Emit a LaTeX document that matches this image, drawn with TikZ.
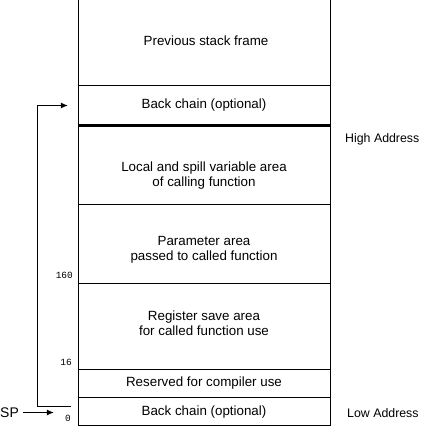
\documentclass[tikz,border=0pt]{standalone}
\usepackage{fontspec}
\setmainfont{Liberation Sans}
\newfontfamily\monof{Liberation Mono}
\usetikzlibrary{arrows.meta}
\begin{document}
\begin{tikzpicture}[x=1bp,y=-1bp,
  lbl/.style={font=\fontsize{13.4}{15}\selectfont, align=center, inner sep=0pt},
  side/.style={font=\fontsize{12.4}{14}\selectfont, anchor=west, inner sep=0pt},
  num/.style={font=\monof\fontsize{9.5}{11}\selectfont, anchor=east, inner sep=0pt},
  boxline/.style={line width=1.5bp, draw=black},
  sepline/.style={line width=3.5bp, draw=black},
  ptr/.style={line width=1.5bp, draw=black, -{Latex[length=7bp,width=6bp]}}]
\useasboundingbox (0,0) rectangle (428,427);
% outer frame (open top)
\draw[boxline] (78.5,0) -- (78.5,425.5) -- (330.5,425.5) -- (330.5,0);
\draw[boxline] (78.5,85.5) -- (330.5,85.5);
\draw[sepline] (78.5,125.5) -- (330.5,125.5);
\draw[boxline] (78.5,204.5) -- (330.5,204.5);
\draw[boxline] (78.5,283.5) -- (330.5,283.5);
\draw[boxline] (78.5,369.5) -- (330.5,369.5);
\draw[boxline] (78.5,397.5) -- (330.5,397.5);
% region labels
\node[lbl] (prev) at (206,41) {Previous stack frame};
\node[lbl] (bc1) at (204,105) {Back chain (optional)};
\node[lbl] (local) at (204,175.5) {Local and spill variable area\\of calling function};
\node[lbl] (param) at (204,249.5) {Parameter area\\passed to called function};
\node[lbl] (reg) at (204,323.5) {Register save area\\for called function use};
\node[lbl] (res) at (204,383.5) {Reserved for compiler use};
\node[lbl] (bc0) at (204,412) {Back chain (optional)};
% side labels
\node[side] (high) at (345,139) {High Address};
\node[side] (low) at (347,413) {Low Address};
% offsets
\node[num] (n160) at (73,275) {160};
\node[num] (n16) at (72,362) {16};
\node[num] (n0) at (71,418.5) {0};
% SP pointer
\node[lbl, font=\fontsize{14}{16}\selectfont, anchor=west] (sp) at (0,412.5) {SP};
\coordinate (sptip) at (54,412.5);
\coordinate (spstart) at (23,412.5);
\draw[ptr] (spstart) -- (sptip);
% back chain link
\coordinate (bcbot) at (71,406.5);
\coordinate (bcturn1) at (37.5,406.5);
\coordinate (bcturn2) at (37.5,105.5);
\coordinate (bctip) at (68,105.5);
\draw[ptr] (bcbot) -- (bcturn1) -- (bcturn2) -- (bctip);
\end{tikzpicture}
\end{document}
